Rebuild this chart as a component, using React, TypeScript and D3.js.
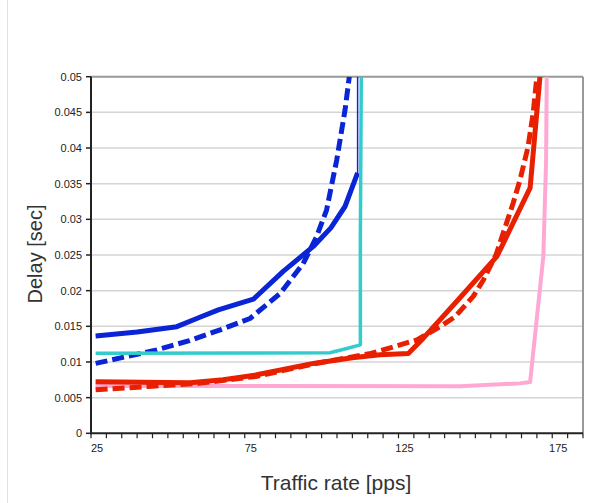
import React from "react";
import * as d3 from "d3";

type P = [number, number];

const xTickLabels = [25, 75, 125, 175];
const yTickValues = [0, 0.005, 0.01, 0.015, 0.02, 0.025, 0.03, 0.035, 0.04, 0.045, 0.05];

const blueSolid: P[] = [
  [26.5, 0.01365], [40, 0.0142], [52.9, 0.01495], [60, 0.0162], [66.4, 0.0173],
  [77.8, 0.0188], [87.5, 0.0227], [97.3, 0.0262], [103, 0.0288], [107.6, 0.0318], [111.7, 0.0365],
];
const blueSolidTail: P[] = [[111.7, 0.0365], [111.7, 0.05]];
const blueDashed: P[] = [
  [26.5, 0.0098], [36, 0.0107], [46.4, 0.0117], [57, 0.0130], [67.0, 0.0145], [76.7, 0.0161],
  [86.5, 0.0196], [94.0, 0.0238], [98.4, 0.0276], [101.6, 0.0313], [104.9, 0.0383],
  [107.6, 0.0453], [109.0, 0.05],
];
const cyan: P[] = [
  [26.5, 0.01122], [102.7, 0.0113], [108.2, 0.0119], [112.6, 0.0124], [112.6, 0.0276], [112.9, 0.05],
];
const redSolid: P[] = [
  [26.5, 0.00724], [57.2, 0.0071], [68, 0.0075], [78.9, 0.0082], [97.3, 0.0098], [110, 0.0106],
  [119, 0.0110], [128.2, 0.0112], [133, 0.0133], [145, 0.0190], [157, 0.0248],
  [167.8, 0.0344], [171.0, 0.05],
];
const redDashed: P[] = [
  [26.5, 0.0061], [45, 0.0066], [60, 0.0070], [79, 0.0080], [97, 0.0097], [116, 0.0112],
  [124, 0.0122], [131, 0.0131], [138.7, 0.0150], [143.4, 0.01635], [149.3, 0.0192],
  [152.6, 0.0215], [156.7, 0.025], [162.3, 0.0323], [164.5, 0.0355], [167.1, 0.0401],
  [168.8, 0.0449], [170, 0.05],
];
const pink: P[] = [
  [26.5, 0.00663], [145, 0.0066], [164.5, 0.0070], [167.8, 0.0072], [172.1, 0.0248],
  [173, 0.0383], [173.2, 0.05],
];

const W = 605, H = 503;
const L = 91, R = 583, T = 76.7, B = 433.3;

export default function App() {
  const x = d3.scaleLinear().domain([25, 185]).range([L, R]);
  const y = d3.scaleLinear().domain([0, 0.05]).range([B, T]);
  const line = d3.line<P>().x((d) => x(d[0])).y((d) => y(d[1]));
  const minorTicks = d3.range(25, 185.001, 5);
  const font = "Arial, 'Liberation Sans', sans-serif";

  return (
    <svg width={W} height={H} style={{ position: "absolute", left: 0, top: 0, background: "#fff" }}>
      <defs>
        <clipPath id="plot">
          <rect x={L} y={T} width={R - L} height={B - T} />
        </clipPath>
      </defs>
      <line x1={7.5} x2={7.5} y1={0} y2={H} stroke="#e2e2e2" strokeWidth={1} />
      {/* gridlines */}
      {yTickValues.slice(1, -1).map((v) => (
        <line key={v} x1={L} x2={R} y1={y(v)} y2={y(v)} stroke="#d4d4d4" strokeWidth={1.5} />
      ))}
      {/* frame top/right */}
      <line x1={L} x2={R} y1={T} y2={T} stroke="#999" strokeWidth={2} />
      <line x1={R} x2={R} y1={T} y2={B} stroke="#999" strokeWidth={2} />
      <g clipPath="url(#plot)" fill="none" strokeLinejoin="round">
        <path d={line(pink) || ""} stroke="#ffa8d4" strokeWidth={4} />
        <path d={line(blueDashed) || ""} stroke="#0a25d6" strokeWidth={5} strokeDasharray="12,5" />
        <path d={line(blueSolid) || ""} stroke="#0a25d6" strokeWidth={5} />
        <path d={line(blueSolidTail) || ""} stroke="#0a25d6" strokeWidth={1.5} />
        <path d={line(cyan) || ""} stroke="#33cccc" strokeWidth={3.5} />
        <path d={line(redDashed) || ""} stroke="#e82000" strokeWidth={5} strokeDasharray="12,5" />
        <path d={line(redSolid) || ""} stroke="#e82000" strokeWidth={5} />
      </g>
      {/* axes */}
      <line x1={L} x2={L} y1={T} y2={B + 1} stroke="#222" strokeWidth={2} />
      <line x1={L - 1} x2={R} y1={B} y2={B} stroke="#222" strokeWidth={2} />
      {yTickValues.map((v) => (
        <g key={v}>
          <line x1={L - 5} x2={L} y1={y(v)} y2={y(v)} stroke="#222" strokeWidth={1.5} />
          <text x={L - 9} y={y(v) + 4} textAnchor="end" fontFamily={font} fontSize={11} fill="#222">
            {v === 0 ? "0" : String(+v.toFixed(3))}
          </text>
        </g>
      ))}
      {minorTicks.map((v) => (
        <line key={v} x1={x(v)} x2={x(v)} y1={B} y2={B + 5} stroke="#222" strokeWidth={1.2} />
      ))}
      {xTickLabels.map((v) => (
        <text key={v} x={x(v) + 6} y={452} textAnchor="middle" fontFamily={font} fontSize={11} fill="#222">
          {v}
        </text>
      ))}
      <text x={336} y={490} textAnchor="middle" fontFamily={font} fontSize={21} fill="#333">
        Traffic rate [pps]
      </text>
      <text transform="translate(42,254) rotate(-90)" textAnchor="middle" fontFamily={font} fontSize={20} fill="#333">
        Delay [sec]
      </text>
    </svg>
  );
}
